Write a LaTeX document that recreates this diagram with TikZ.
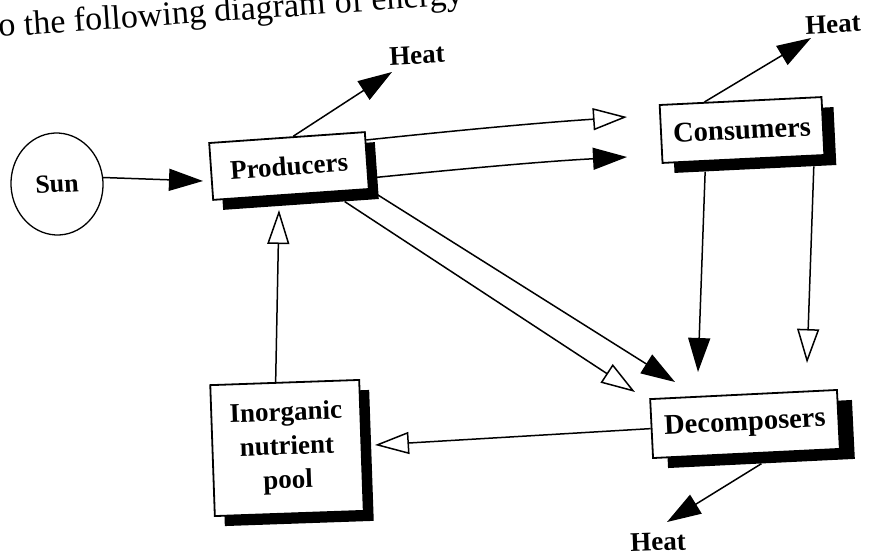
\documentclass[tikz,border=0pt]{standalone}
\usepackage{fontspec}
\setmainfont{Liberation Serif}
\usetikzlibrary{arrows.meta,calc,shapes.geometric}
\begin{document}
\begin{tikzpicture}[x=1pt,y=-1pt,
  box/.style={draw=black, line width=1.8pt, fill=white, inner sep=0pt,
    font=\fontsize{27}{34}\selectfont\bfseries, align=center},
  shadowbox/.style={fill=black, inner sep=0pt},
  flow/.style={line width=1.5pt},
  fillhead/.style={flow, -{Triangle[length=34pt,width=22pt]}},
  openhead/.style={flow, -{Triangle[open,length=34pt,width=22pt]}},
  lbl/.style={font=\fontsize{27}{33}\selectfont\bfseries, inner sep=0pt},
  titletext/.style={anchor=base west, rotate=4, inner sep=0pt, font=\fontsize{34}{40}\selectfont}]

\useasboundingbox (0,0) rectangle (871,558);
\clip (0,0) rectangle (871,558);

\node[titletext] (title1) at (-1,37) {o the following diagram};
\node[titletext] (title2) at ($(title1.base east)+(9,-0.6)$) {of energy};

% shadows
\node[shadowbox, minimum width=156pt, minimum height=57pt, rotate=4] (prodS) at (299,176) {};
\node[shadowbox, minimum width=162pt, minimum height=58pt, rotate=2.8] (consS) at (754,140) {};
\node[shadowbox, minimum width=187pt, minimum height=59pt, rotate=2.8] (decS) at (760,434) {};
\node[shadowbox, minimum width=149pt, minimum height=131pt, rotate=2] (inorgS) at (297,458) {};

% boxes
\node[box, minimum width=156pt, minimum height=57pt, rotate=4] (prod) at (289,166) {Producers};
\node[box, minimum width=162pt, minimum height=58pt, rotate=2.8, font=\fontsize{28.5}{34}\selectfont\bfseries] (cons) at (742,130) {Consumers};
\node[box, minimum width=187pt, minimum height=59pt, rotate=2.8, font=\fontsize{28.5}{34}\selectfont\bfseries] (dec) at (745,424) {Decomposers};
\node[box, minimum width=149pt, minimum height=131pt, rotate=2] (inorg) at (287,448) {Inorganic\\nutrient\\pool};

\node[draw, ellipse, line width=1.3pt, minimum width=92pt, minimum height=102pt, inner sep=0pt,
  font=\fontsize{26}{30}\selectfont\bfseries, rotate=3] (sun) at (57,184) {Sun};

% heat labels
\node[lbl, rotate=3] (h1) at (417,55) {Heat};
\node[lbl, rotate=3] (h2) at (833,24) {Heat};
\node[lbl, rotate=2] (h3) at (658,542) {Heat};

% arrow tips
\coordinate (tSun) at (203,181);
\coordinate (tH1) at (392,72);
\coordinate (tH2) at (811,38);
\coordinate (tH3) at (667,522);
\coordinate (tPC1) at (627,117);
\coordinate (tPC2) at (627,157);
\coordinate (tPD1) at (675,382);
\coordinate (tPD2) at (635,392);
\coordinate (tCD1) at (698,372);
\coordinate (tCD2) at (807,363);
\coordinate (tDI) at (375,445);
\coordinate (tIP) at (279,210);

\draw[fillhead] (sun.5) -- (tSun);
\draw[fillhead] ($(prod.north west)!0.54!(prod.north east)$) -- (tH1);
\draw[fillhead] ($(cons.north west)!0.28!(cons.north east)$) -- (tH2);
\draw[fillhead] (decS.south) -- (tH3);
\draw[openhead] ($(prod.north east)!0.15!(prod.south east)$) .. controls (480,128) and (550,122) .. (tPC1);
\draw[fillhead] ($(prod.north east)!0.8!(prod.south east)$) .. controls (480,167) and (550,161) .. (tPC2);
\draw[fillhead] (prod.south east) -- (tPD1);
\draw[openhead] ($(prodS.south west)!0.78!(prodS.south east)$) -- (tPD2);
\draw[fillhead] ($(consS.south west)!0.19!(consS.south east)$) -- (tCD1);
\draw[openhead] ($(consS.south west)!0.86!(consS.south east)$) -- (tCD2);
\draw[openhead] (dec.west) -- (tDI);
\draw[openhead] ($(inorg.north west)!0.44!(inorg.north east)$) -- (tIP);
\end{tikzpicture}
\end{document}
